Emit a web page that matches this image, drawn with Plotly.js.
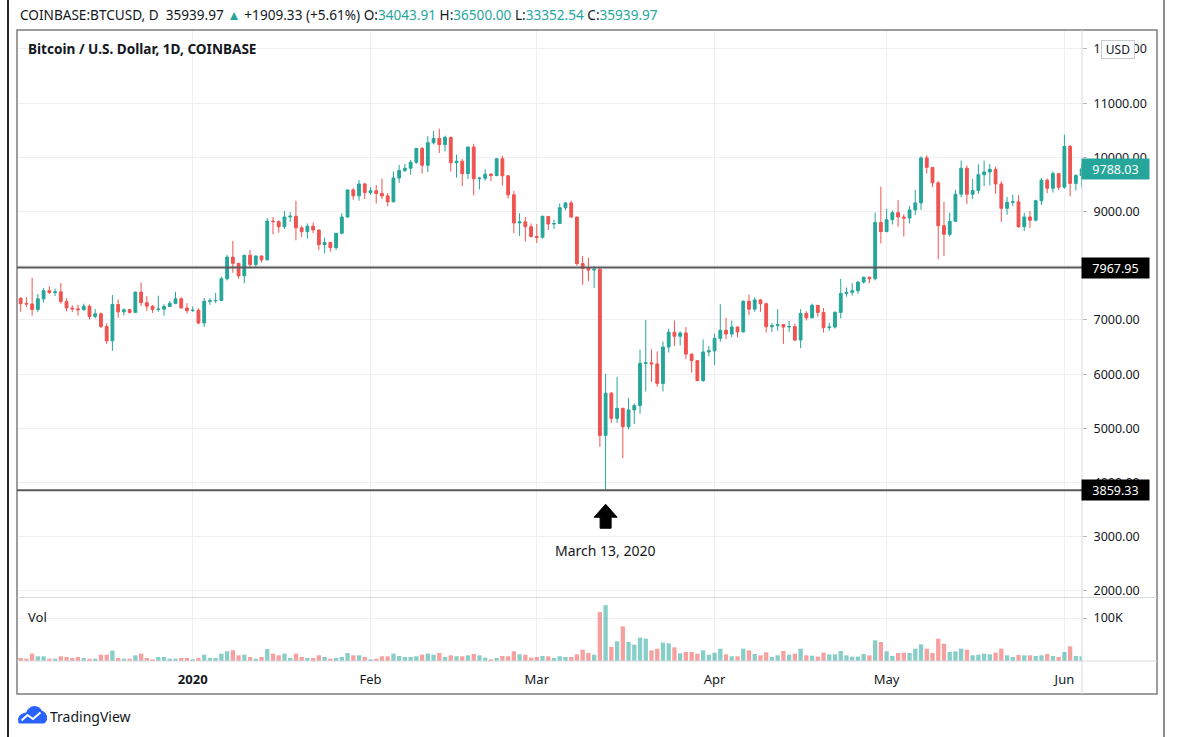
<!DOCTYPE html>
<html>
<head>
<meta charset="utf-8">
<script src="https://cdn.plot.ly/plotly-3.0.1.min.js"></script>
<style>
html,body{margin:0;padding:0;background:#fff;}
#chart{width:1181px;height:737px;}
</style>
</head>
<body>
<div id="chart"></div>
<script>
// ---------------- DATA ----------------
// Daily candles [open, high, low, close], COINBASE BTCUSD
const startDate = '2019-12-02';
const dec2019 = [
 [7400,7420,7150,7300],[7305,7420,7240,7296],[7296,7780,7080,7195],[7195,7480,7150,7390],[7390,7590,7320,7540],
 [7540,7620,7480,7505],[7505,7580,7440,7520],[7520,7680,7300,7340],[7340,7400,7160,7220],[7220,7270,7150,7205],
 [7205,7280,7080,7190],[7190,7300,7170,7255],[7255,7285,7010,7065],[7065,7200,7030,7115],[7115,7140,6850,6880],
 [6880,6940,6560,6615],[6615,7460,6430,7285],[7285,7380,7040,7150],[7150,7210,7080,7190],[7190,7200,7120,7140],
 [7140,7520,7130,7515],[7515,7690,7260,7320],[7320,7440,7170,7255],[7255,7270,7130,7195],[7195,7450,7150,7200],
 [7200,7290,7080,7250],[7250,7350,7240,7305],[7305,7520,7290,7390],[7390,7420,7220,7220],[7220,7310,7120,7170]
];
const jan2020 = [
 [7170,7250,7150,7180],[7180,7215,6920,6945],[6945,7405,6870,7345],[7345,7405,7280,7355],[7355,7500,7310,7360],
 [7360,7800,7350,7760],[7760,8200,7730,8160],[8160,8460,7870,8045],[8045,8050,7760,7815],[7815,8200,7680,8195],
 [8195,8290,7950,8025],[8025,8190,7975,8180],[8180,8190,8060,8110],[8110,8880,8100,8825],[8825,8900,8580,8815],
 [8815,8840,8610,8720],[8720,9010,8680,8900],[8900,8990,8810,8915],[8915,9200,8470,8700],[8700,8740,8530,8630],
 [8630,8780,8500,8730],[8730,8800,8600,8660],[8660,8670,8290,8390],[8390,8520,8230,8430],[8430,8440,8260,8335],
 [8335,8600,8290,8600],[8600,8970,8580,8900],[8900,9400,8880,9400],[9400,9430,9220,9290],[9290,9580,9200,9510],
 [9510,9530,9230,9350]
];
const feb2020 = [
 [9350,9450,9310,9385],[9385,9490,9150,9335],[9335,9610,9230,9290],[9290,9340,9100,9180],[9180,9740,9170,9620],
 [9620,9860,9530,9760],[9760,9880,9730,9800],[9800,9950,9680,9910],[9910,10170,9880,10165],[10165,10190,9700,9855],
 [9855,10390,9730,10270],[10270,10490,10240,10350],[10350,10530,10080,10235],[10235,10400,10110,10370],[10370,10380,9740,9900],
 [9900,10050,9630,9930],[9930,9970,9470,9700],[9700,10200,9600,10190],[10190,10250,9300,9605],[9605,9640,9410,9615],
 [9615,9780,9570,9690],[9690,9710,9560,9665],[9665,9990,9650,9975],[9975,10030,9480,9660],[9660,9670,9240,9310],
 [9310,9380,8600,8790],[8790,8970,8550,8810],[8810,8900,8450,8720],[8720,8780,8520,8540]
];
const mar2020 = [
 [8540,8770,8420,8525],[8525,8930,8500,8910],[8910,8920,8660,8770],[8770,8850,8680,8780],[8780,9150,8780,9070],
 [9070,9170,9020,9160],[9160,9200,8880,8900],[8900,8900,8000,8040],[8040,8180,7650,7950],[7950,8150,7720,7920],
 [7920,7990,7590,7935],[7935,7967.95,4660,4870],[4870,6010,3859.33,5650],[5650,5670,5100,5185],[5185,5950,5100,5370],
 [5370,5380,4450,5030],[5030,5560,4980,5340],[5340,5460,5080,5420],[5420,6450,5270,6200],[6200,7000,5680,6210],
 [6210,6460,5860,6190],[6190,6420,5770,5830],[5830,6600,5680,6500],[6500,6840,6400,6775],[6775,6990,6520,6700],
 [6700,6790,6530,6760],[6760,6870,6280,6370],[6370,6380,6030,6250],[6250,6260,5880,5880],[5880,6640,5860,6410],
 [6410,6520,6330,6430]
];
const apr2020 = [
 [6430,6750,6170,6660],[6660,7290,6600,6810],[6810,7040,6650,6740],[6740,6990,6680,6870],[6870,6880,6680,6780],
 [6780,7360,6770,7345],[7345,7470,7090,7200],[7200,7420,7150,7370],[7370,7390,7150,7300],[7300,7320,6770,6875],
 [6875,6940,6780,6895],[6895,7200,6800,6915],[6915,6920,6560,6870],[6870,6980,6780,6880],[6880,6935,6610,6630],
 [6630,7200,6480,7120],[7120,7160,6990,7040],[7040,7300,7030,7270],[7270,7270,7060,7140],[7140,7220,6770,6860],
 [6860,6950,6800,6870],[6870,7160,6840,7140],[7140,7760,7030,7490],[7490,7600,7430,7510],[7510,7680,7450,7540],
 [7540,7710,7480,7700],[7700,7800,7670,7790],[7790,7800,7680,7760],[7760,8980,7730,8800],[8800,9460,8410,8630]
];
const may2020 = [
 [8630,9050,8620,8850],[8850,9020,8760,8980],[8980,9210,8720,8900],[8900,8950,8540,8880],[8880,9100,8780,9030],
 [9030,9400,8940,9160],[9160,10020,9030,9990],[9990,10040,9700,9815],[9815,9820,9450,9530],[9530,9560,8120,8740],
 [8740,9180,8180,8580],[8580,8980,8540,8820],[8820,9400,8810,9320],[9320,9940,9260,9800],[9800,9850,9140,9320],
 [9320,9600,9230,9390],[9390,9870,9330,9680],[9680,9940,9470,9730],[9730,9880,9480,9780],[9780,9830,9330,9510],
 [9510,9560,8810,9060],[9060,9270,8940,9170],[9170,9310,9100,9180],[9180,9300,8700,8720],[8720,8980,8640,8900],
 [8900,9010,8700,8840],[8840,9220,8820,9200],[9200,9620,9120,9580],[9580,9610,9340,9430],[9430,9740,9350,9700],
 [9700,9700,9400,9450]
];
const jun2020 = [
 [9450,10420,9420,10200],[10200,10230,9280,9520],[9520,9690,9390,9665],[9665,9880,9450,9788.03]
];
// Daily volume, thousands of BTC
const volDec = [7.0,5.4,17.1,10.9,10.9,5.4,5.4,10.9,9.3,7.0,9.3,7.0,5.4,5.4,14.7,14.7,24.1,7.0,5.4,5.4,13.2,17.1,7.0,3.9,9.3,9.3,5.4,5.4,7.0,7.0];
const volJan = [3.9,7.0,14.7,7.0,7.0,17.1,22.5,24.8,13.2,14.7,9.3,5.4,9.3,27.9,17.1,13.2,17.1,7.0,17.1,9.3,7.0,7.0,13.2,9.3,5.4,7.0,9.3,18.6,13.2,13.2,9.3];
const volFeb = [3.9,5.4,10.9,10.9,17.1,11.6,9.3,9.3,10.9,14.7,17.1,14.7,18.6,9.3,13.2,10.9,10.9,13.2,16.3,13.2,7.8,3.9,7.0,11.6,10.9,22.5,15.5,14.7,7.8];
const volMar = [9.3,11.6,10.9,7.0,10.9,9.3,9.3,15.5,26.4,18.6,14.7,114,130,32.6,45.8,80.7,44.2,38.0,54.3,52.0,24.8,28.7,42.7,41.1,31.8,17.8,21.0,21.0,17.1,24.8,14.7];
const volApr = [19.4,28.7,15.5,10.9,10.9,28.7,24.8,16.3,13.2,20.2,9.3,13.2,23.3,14.7,17.1,28.7,13.2,12.4,10.1,19.4,15.5,15.5,23.3,13.2,10.1,10.1,16.3,13.2,48.1,44.2];
const volMay = [22.5,11.6,18.6,19.4,18.6,28.7,38.8,28.7,18.6,52.0,40.4,21.0,22.5,28.7,26.4,13.2,14.7,17.1,15.5,19.4,28.7,13.2,9.3,14.0,13.2,13.2,11.6,13.2,16.3,11.6,9.3];
const volJun = [21.0,34.1,11.6,10.9];

const monthTicks = ['2020-01-01','2020-02-01','2020-03-01','2020-04-01','2020-05-01','2020-06-01'];
const monthLabels = ['<b>2020</b>','Feb','Mar','Apr','May','Jun'];
const levelHigh = 7967.95;   // Mar 12 high
const levelLow = 3859.33;    // Mar 13 low
const lastPrice = 9788.03;
const eventDate = '2020-03-13';
const eventLabel = 'March 13, 2020';

// ---------------- BUILD ----------------
const candles = [].concat(dec2019, jan2020, feb2020, mar2020, apr2020, may2020, jun2020);
const volumesK = [].concat(volDec, volJan, volFeb, volMar, volApr, volMay, volJun);
const dates = [];
(function(){
  const p = startDate.split('-').map(Number);
  for (let i = 0; i < candles.length; i++) {
    dates.push(new Date(Date.UTC(p[0], p[1]-1, p[2]+i)).toISOString().slice(0,10));
  }
})();
const open = candles.map(c => c[0]);
const high = candles.map(c => c[1]);
const low = candles.map(c => c[2]);
const close = candles.map(c => c[3]);
const volume = volumesK.map(v => v * 1000);

const UP = '#26a69a', DOWN = '#ef5350';
const volColors = candles.map(c => c[3] >= c[0] ? 'rgba(38,166,154,0.55)' : 'rgba(239,83,80,0.55)');

const W = 1181, H = 737;
const px = x => x / W;
const py = y => 1 - y / H;
function pathFromPx(pts, closePath) {
  return pts.map((p, i) => (i ? 'L' : 'M') + px(p[0]).toFixed(5) + ',' + py(p[1]).toFixed(5)).join(' ') + (closePath ? ' Z' : '');
}

const traces = [
  {
    type: 'candlestick', x: dates, open: open, high: high, low: low, close: close,
    xaxis: 'x', yaxis: 'y',
    increasing: {line: {color: UP, width: 1}, fillcolor: UP},
    decreasing: {line: {color: DOWN, width: 1}, fillcolor: DOWN},
    whiskerwidth: 0, hoverinfo: 'skip'
  },
  {
    type: 'bar', x: dates, y: volume, xaxis: 'x', yaxis: 'y2',
    marker: {color: volColors, line: {width: 0}}, hoverinfo: 'skip'
  }
];

const gridC = '#eef0f4';
const layout = {
  width: W, height: H,
  margin: {l: 0, r: 0, t: 0, b: 0},
  paper_bgcolor: '#ffffff', plot_bgcolor: '#ffffff',
  showlegend: false,
  font: {family: 'Noto Sans, Open Sans, sans-serif', color: '#131722', size: 13},
  bargap: 0.25,
  xaxis: {
    domain: [px(17), px(1082)], anchor: 'y2', type: 'date',
    range: ['2019-12-01 08:40', '2020-06-04 01:40'],
    rangeslider: {visible: false},
    tickmode: 'array', tickvals: monthTicks, ticktext: monthLabels,
    showgrid: true, gridcolor: gridC, gridwidth: 1,
    zeroline: false, showline: false, ticks: '',
    ticklabelstandoff: 9,
    tickfont: {size: 13, color: '#131722'},
    fixedrange: true
  },
  yaxis: {
    domain: [py(597), py(30)], anchor: 'x', side: 'right',
    range: [1889, 12350],
    tick0: 0, dtick: 1000, tickformat: '.2f',
    showgrid: true, gridcolor: gridC, gridwidth: 1,
    zeroline: false, showline: false,
    ticks: 'outside', ticklen: 4, tickcolor: '#b2b5be',
    ticklabelstandoff: 4,
    tickfont: {size: 12.5, color: '#131722'},
    fixedrange: true
  },
  yaxis2: {
    domain: [py(661), py(597)], anchor: 'x', side: 'right',
    range: [0, 149000],
    tickmode: 'array', tickvals: [100000], ticktext: ['100K'],
    showgrid: true, gridcolor: gridC, gridwidth: 1,
    zeroline: false, showline: false,
    ticks: 'outside', ticklen: 4, tickcolor: '#b2b5be',
    ticklabelstandoff: 4,
    tickfont: {size: 12.5, color: '#131722'},
    fixedrange: true
  },
  shapes: [
    {type: 'line', xref: 'paper', yref: 'paper', x0: px(8), x1: px(8), y0: 0, y1: 1, line: {color: '#222', width: 2}},
    {type: 'line', xref: 'paper', yref: 'paper', x0: px(1164), x1: px(1164), y0: 0, y1: 1, line: {color: '#8a8a8a', width: 2}},
    {type: 'rect', xref: 'paper', yref: 'paper', x0: px(17), x1: px(1157), y0: py(694), y1: py(30), line: {color: '#7d7d7d', width: 1.5}},
    {type: 'line', xref: 'paper', yref: 'paper', x0: px(1082), x1: px(1082), y0: py(694), y1: py(30), line: {color: '#d6d8de', width: 1}},
    {type: 'line', xref: 'paper', yref: 'paper', x0: px(17), x1: px(1157), y0: py(597.5), y1: py(597.5), line: {color: '#d6d8de', width: 1}},
    {type: 'line', xref: 'paper', yref: 'paper', x0: px(17), x1: px(1157), y0: py(661), y1: py(661), line: {color: '#d6d8de', width: 1}},
    {type: 'line', xref: 'paper', yref: 'y', x0: px(17), x1: px(1082), y0: levelHigh, y1: levelHigh, line: {color: '#5a5a5a', width: 2}},
    {type: 'line', xref: 'paper', yref: 'y', x0: px(17), x1: px(1082), y0: levelLow, y1: levelLow, line: {color: '#5a5a5a', width: 2}},
    {type: 'path', xref: 'x', yref: 'y', xsizemode: 'pixel', ysizemode: 'pixel', xanchor: eventDate, yanchor: levelLow,
     path: 'M 0,-14 L 11.5,-27 L 5.5,-27 L 5.5,-38 L -5.5,-38 L -5.5,-27 L -11.5,-27 Z',
     fillcolor: '#000', line: {color: '#000', width: 1}},
    {type: 'path', xref: 'paper', yref: 'paper',
     path: pathFromPx([[19,723],[18.5,719],[20,715.5],[23.5,713.5],[26.5,713],[28,709.5],[31.5,707],[35.5,706.5],[39.5,708],[41.5,711],[44.5,712.5],[46.5,716],[46.5,720],[44.5,723]], true),
     fillcolor: '#2962ff', line: {color: '#2962ff', width: 1}},
    {type: 'path', xref: 'paper', yref: 'paper',
     path: pathFromPx([[21.5,720.5],[27.5,715],[33,719],[40.5,712.5]], false),
     line: {color: '#ffffff', width: 2}}
  ],
  annotations: [
    {xref: 'paper', yref: 'paper', x: px(18), y: py(14), xanchor: 'left', yanchor: 'middle', showarrow: false,
     font: {size: 13.6, color: '#131722'},
     text: 'COINBASE:BTCUSD, D  35939.97 <span style="color:#26a69a">▲</span> +1909.33 (+5.61%) O:<span style="color:#26a69a">34043.91</span> H:<span style="color:#26a69a">36500.00</span> L:<span style="color:#26a69a">33352.54</span> C:<span style="color:#26a69a">35939.97</span>'},
    {xref: 'paper', yref: 'paper', x: px(26), y: py(48), xanchor: 'left', yanchor: 'middle', showarrow: false,
     font: {size: 13.6, color: '#131722'}, text: '<b>Bitcoin / U.S. Dollar, 1D, COINBASE</b>'},
    {xref: 'paper', yref: 'paper', x: px(26), y: py(617), xanchor: 'left', yanchor: 'middle', showarrow: false,
     font: {size: 13, color: '#131722'}, text: 'Vol'},
    {xref: 'paper', yref: 'paper', x: px(1118), y: py(49), xanchor: 'center', yanchor: 'middle', showarrow: false,
     font: {size: 12, color: '#131722'}, text: 'USD', bgcolor: '#ffffff', bordercolor: '#c9cbd1', borderwidth: 1, borderpad: 2, width: 28, height: 13},
    {xref: 'paper', yref: 'y', x: px(1081), y: lastPrice, xanchor: 'left', yanchor: 'middle', showarrow: false,
     font: {size: 12.5, color: '#ffffff'}, text: lastPrice.toFixed(2), bgcolor: UP, borderpad: 2, width: 63, height: 16},
    {xref: 'paper', yref: 'y', x: px(1081), y: levelHigh, xanchor: 'left', yanchor: 'middle', showarrow: false,
     font: {size: 12.5, color: '#ffffff'}, text: levelHigh.toFixed(2), bgcolor: '#000000', borderpad: 2, width: 63, height: 16},
    {xref: 'paper', yref: 'y', x: px(1081), y: levelLow, xanchor: 'left', yanchor: 'middle', showarrow: false,
     font: {size: 12.5, color: '#ffffff'}, text: levelLow.toFixed(2), bgcolor: '#000000', borderpad: 2, width: 63, height: 16},
    {xref: 'x', yref: 'y', x: eventDate, y: levelLow, xanchor: 'center', yanchor: 'middle', yshift: -60, showarrow: false,
     font: {size: 14, color: '#131722'}, text: eventLabel},
    {xref: 'paper', yref: 'paper', x: px(48), y: py(716), xanchor: 'left', yanchor: 'middle', showarrow: false,
     font: {size: 14, color: '#131722'}, text: 'TradingView'}
  ]
};

Plotly.newPlot('chart', traces, layout, {staticPlot: true, displayModeBar: false, responsive: false});
</script>
</body>
</html>
